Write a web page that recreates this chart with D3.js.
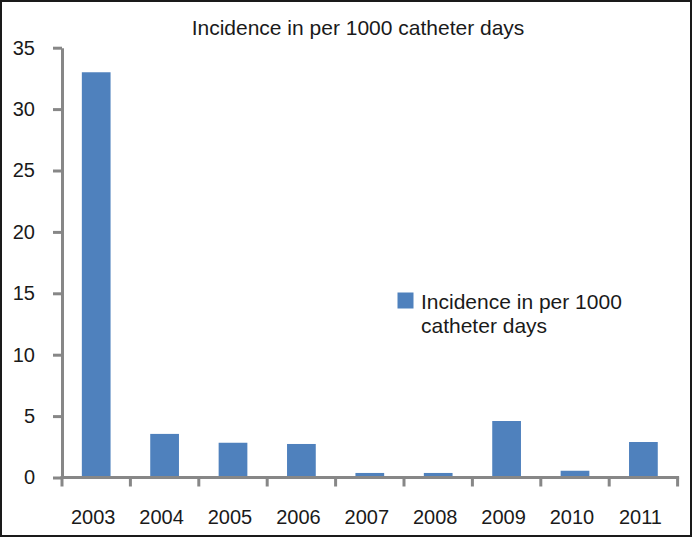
<!DOCTYPE html>
<html lang="en">
    <head>
        <meta charset="utf-8">
        <title>Incidence chart</title>
        <script src="https://cdn.jsdelivr.net/npm/d3@7"></script>
    </head>
    <style>
        body { margin: 0; background: #fff; }
        svg text { font-family: "Liberation Sans", Arial, sans-serif; fill: #1a1a1a; }
    </style>
    <body>
        <script type="text/javascript">

            // data
            var years = ["2003", "2004", "2005", "2006", "2007", "2008", "2009", "2010", "2011"];
            var incidence = [33.0, 3.55, 2.83, 2.73, 0.37, 0.37, 4.6, 0.55, 2.89];
            var yTicks = [0, 5, 10, 15, 20, 25, 30, 35];
            var title = "Incidence in per 1000 catheter days";
            var legendLines = ["Incidence in per 1000", "catheter days"];

            var w = 692, h = 537;
            var svg = d3.select("body").append("svg").attr("width", w).attr("height", h);

            // outer frame
            svg.append("rect")
                .attr("x", 1).attr("y", 1).attr("width", w - 2).attr("height", h - 2)
                .attr("fill", "white").attr("stroke", "#1a1a1a").attr("stroke-width", 2);

            // plot area (note: "top" would clash with window.top)
            var plotL = 62, plotR = 677.6, plotT = 47.7, plotB = 477.5;

            var x = d3.scaleBand().domain(years).range([plotL, plotR])
                .paddingInner(0.58).paddingOuter(0.29);
            var y = d3.scaleLinear().domain([0, 35]).range([plotB, plotT]);

            var axisColor = "#878787";

            // bars
            svg.selectAll("rect.bar").data(incidence).enter().append("rect")
                .attr("class", "bar")
                .attr("x", function(d, i) { return x(years[i]); })
                .attr("y", function(d) { return y(d); })
                .attr("width", x.bandwidth())
                .attr("height", function(d) { return y(0) - y(d); })
                .attr("fill", "#4f81bd");

            // y axis
            var yAxis = svg.append("g")
                .attr("transform", "translate(" + plotL + ",0)")
                .call(d3.axisLeft(y).tickValues(yTicks).tickSize(9).tickSizeOuter(0).tickPadding(18));
            yAxis.select(".domain").attr("stroke", axisColor).attr("stroke-width", 3);
            yAxis.selectAll(".tick line").attr("stroke", axisColor).attr("stroke-width", 3);
            yAxis.selectAll(".tick text").attr("font-size", "20px").attr("fill", "#1a1a1a")
                .attr("font-family", "Liberation Sans, Arial, sans-serif");

            // x axis: ticks sit between the categories
            var step = x.step();
            var edges = years.map(function(d) { return x(d) - (step - x.bandwidth()) / 2; });
            edges.push(edges[edges.length - 1] + step);

            svg.append("line")
                .attr("x1", plotL - 1.5).attr("x2", edges[edges.length - 1] + 1.5)
                .attr("y1", y(0)).attr("y2", y(0))
                .attr("stroke", axisColor).attr("stroke-width", 3);
            svg.selectAll("line.xtick").data(edges).enter().append("line")
                .attr("class", "xtick")
                .attr("x1", function(d) { return d; }).attr("x2", function(d) { return d; })
                .attr("y1", y(0)).attr("y2", y(0) + 9)
                .attr("stroke", axisColor).attr("stroke-width", 3);
            // labels sit a touch left of the bar centres in the original
            svg.selectAll("text.xlab").data(years).enter().append("text")
                .attr("class", "xlab")
                .attr("x", function(d) { return x(d) + x.bandwidth() / 2 - 3; })
                .attr("y", 524)
                .attr("text-anchor", "middle")
                .attr("font-size", "20px")
                .text(function(d) { return d; });

            // title
            svg.append("text")
                .attr("x", 358).attr("y", 35)
                .attr("text-anchor", "middle")
                .attr("font-size", "21px")
                .text(title);

            // legend
            svg.append("rect")
                .attr("x", 397.5).attr("y", 292.5).attr("width", 16).attr("height", 16)
                .attr("fill", "#4f81bd");
            svg.selectAll("text.leg").data(legendLines).enter().append("text")
                .attr("class", "leg")
                .attr("x", 421)
                .attr("y", function(d, i) { return 309 + i * 24; })
                .attr("font-size", "21px")
                .text(function(d) { return d; });

        </script>
    </body>
</html>
